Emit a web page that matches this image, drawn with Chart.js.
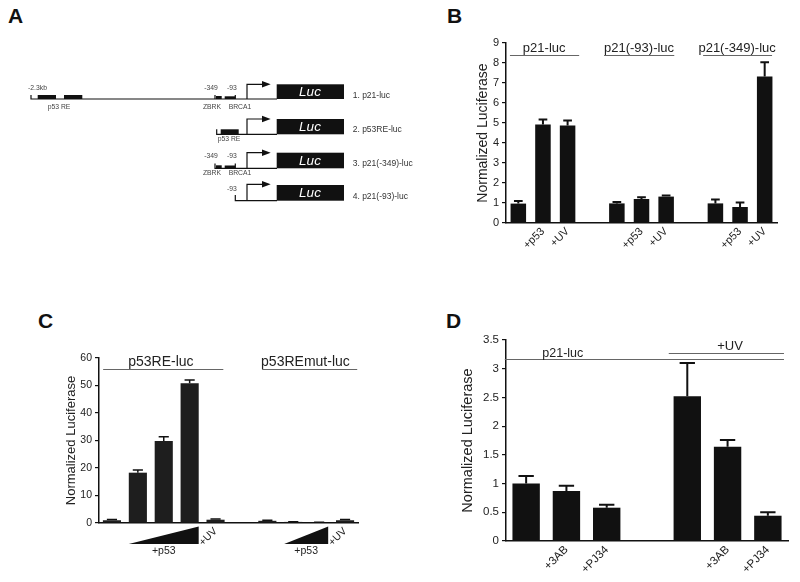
<!DOCTYPE html>
<html>
<head>
<meta charset="utf-8">
<script src="https://cdn.jsdelivr.net/npm/chart.js@4.4.1/dist/chart.umd.min.js"></script>
<style>
  body { margin: 0; background: #fff; }
  #fig { position: relative; width: 800px; height: 582px; overflow: hidden; background: #fff;
         font-family: "Liberation Sans", Arial, sans-serif; }
  .letter { position: absolute; font-weight: bold; font-size: 21px; line-height: 21px; color: #111; }
  canvas { position: absolute; }
  svg { will-change: transform; }
  svg text { font-family: "Liberation Sans", Arial, sans-serif; }
</style>
</head>
<body>
<div id="fig">
  <div class="letter" style="left:8px;top:5px">A</div>
  <div class="letter" style="left:447px;top:5px">B</div>
  <div class="letter" style="left:38px;top:310px">C</div>
  <div class="letter" style="left:446px;top:310px">D</div>

  <svg width="440" height="290" style="position:absolute;left:0;top:0">
    <g stroke="#111" stroke-width="1.2" fill="none">
      <path d="M31,95 V99 H277"/>
      <path d="M215,95 V99 M235.3,95 V99"/>
      <path d="M216.7,129.3 V134.3 H277"/>
      <path d="M215,163.5 V168.3 H277 M235.3,163.5 V168.3"/>
      <path d="M235.3,195 V200.7 H277"/>
      <path d="M247,99 V84.3 H262 M247,134.3 V119 H262 M247,168.3 V152.7 H262 M247,200.7 V184.3 H262"/>
    </g>
    <g fill="#111">
      <rect x="37.7" y="95" width="18.3" height="4"/>
      <rect x="64" y="95" width="18.3" height="4"/>
      <rect x="216" y="96" width="5.7" height="3"/>
      <rect x="224.7" y="96.3" width="10.6" height="2.7"/>
      <rect x="220.7" y="129.3" width="18" height="5"/>
      <rect x="216" y="165.3" width="5.7" height="3"/>
      <rect x="224.7" y="165.5" width="10.6" height="2.8"/>
      <polygon points="262,81 270.7,84.3 262,87.6"/>
      <polygon points="262,115.7 270.7,119 262,122.3"/>
      <polygon points="262,149.4 270.7,152.7 262,156"/>
      <polygon points="262,181 270.7,184.3 262,187.6"/>
      <rect x="276.7" y="84.3" width="67.3" height="14.7"/>
      <rect x="276.7" y="119" width="67.3" height="15.3"/>
      <rect x="276.7" y="152.7" width="67.3" height="15.6"/>
      <rect x="276.7" y="185" width="67.3" height="15.7"/>
    </g>
    <g fill="#fff" font-size="13.5" font-style="italic" text-anchor="middle" dominant-baseline="middle">
      <text x="310" y="92.5">Luc</text>
      <text x="310" y="127.5">Luc</text>
      <text x="310" y="161">Luc</text>
      <text x="310" y="193.5">Luc</text>
    </g>
    <g fill="#444" font-size="6.8" text-anchor="middle" dominant-baseline="middle">
      <text x="37.5" y="88">-2.3kb</text>
      <text x="59" y="107">p53 RE</text>
      <text x="211" y="88">-349</text>
      <text x="232" y="88">-93</text>
      <text x="212" y="107">ZBRK</text>
      <text x="240" y="107">BRCA1</text>
      <text x="229" y="139.5">p53 RE</text>
      <text x="211" y="156">-349</text>
      <text x="232" y="156">-93</text>
      <text x="212" y="173.3">ZBRK</text>
      <text x="240" y="173.3">BRCA1</text>
      <text x="232" y="189">-93</text>
    </g>
    <g fill="#333" font-size="8.5" dominant-baseline="middle">
      <text x="352.7" y="95.5">1. p21-luc</text>
      <text x="352.7" y="130">2. p53RE-luc</text>
      <text x="352.7" y="164">3. p21(-349)-luc</text>
      <text x="352.7" y="196.5">4. p21(-93)-luc</text>
    </g>
  </svg>

  <canvas id="chartB" width="360" height="255" style="left:430px;top:25px"></canvas>
  <canvas id="chartC" width="340" height="230" style="left:30px;top:340px"></canvas>
  <canvas id="chartD" width="365" height="262" style="left:430px;top:320px"></canvas>
</div>

<script>
// Panel B
const bLabels = ['', '+p53', '+UV', '', '', '+p53', '+UV', '', '', '+p53', '+UV'];
const bValues = [0.97, 4.93, 4.88, null, 0.98, 1.20, 1.32, null, 0.98, 0.80, 7.32];
const bErrors = [0.13, 0.24, 0.24, null, 0.07, 0.09, 0.06, null, 0.19, 0.22, 0.72];
const bGroups = ['p21-luc', 'p21(-93)-luc', 'p21(-349)-luc'];

// Panel C
const cLabels = ['', '', '', '', '+UV', '', '', '', '', '+UV'];
const cValues = [1.0, 18.3, 29.8, 50.8, 1.2, null, 0.8, 0.4, 0.2, 1.0];
const cErrors = [0.3, 1.0, 1.6, 1.2, 0.3, null, 0.2, 0.1, 0.1, 0.3];
const cGroups = ['p53RE-luc', 'p53REmut-luc'];
const cWedgeLabel = '+p53';

// Panel D
const dLabels = ['', '+3AB', '+PJ34', '', '', '+3AB', '+PJ34'];
const dValues = [1.00, 0.87, 0.58, null, 2.52, 1.64, 0.44];
const dErrors = [0.13, 0.09, 0.05, null, 0.58, 0.12, 0.06];
const dGroups = ['p21-luc', '+UV'];

const yTitle = 'Normalized Luciferase';
const FONT = '"Liberation Sans", Arial, sans-serif';

function errorBarPlugin(errors, lw) {
  return {
    id: 'errorBars',
    afterDatasetsDraw(chart) {
      const ctx = chart.ctx;
      const y = chart.scales.y;
      const vals = chart.data.datasets[0].data;
      ctx.save();
      ctx.strokeStyle = '#111';
      ctx.lineWidth = lw;
      chart.getDatasetMeta(0).data.forEach((bar, i) => {
        if (vals[i] == null || errors[i] == null) return;
        const top = y.getPixelForValue(vals[i] + errors[i]);
        const half = bar.width * 0.28;
        ctx.beginPath();
        ctx.moveTo(bar.x, bar.y);
        ctx.lineTo(bar.x, top);
        ctx.moveTo(bar.x - half, top);
        ctx.lineTo(bar.x + half, top);
        ctx.stroke();
      });
      ctx.restore();
    }
  };
}

// group lines + labels above the bars, wedges under the axis
function marksPlugin(groups, wedges, wedgeFont) {
  return {
    id: 'groupMarks',
    afterDraw(chart) {
      const {ctx, scales: {x, y}} = chart;
      ctx.save();
      groups.forEach(g => {
        const ly = Math.round(y.getPixelForValue(g.lineAt)) + 0.5;
        ctx.strokeStyle = '#666';
        ctx.lineWidth = 1;
        ctx.beginPath();
        ctx.moveTo(x.getPixelForValue(g.from), ly);
        ctx.lineTo(x.getPixelForValue(g.to), ly);
        ctx.stroke();
        ctx.fillStyle = '#222';
        ctx.font = g.size + 'px ' + FONT;
        ctx.textAlign = 'center';
        ctx.textBaseline = 'middle';
        ctx.fillText(g.text, x.getPixelForValue(g.textAt), y.getPixelForValue(g.textY));
      });
      const base = chart.chartArea.bottom;
      (wedges || []).forEach(w => {
        const x0 = x.getPixelForValue(w.from), x1 = x.getPixelForValue(w.to);
        ctx.fillStyle = '#111';
        ctx.beginPath();
        ctx.moveTo(x0, base + 21);
        ctx.lineTo(x1, base + 21);
        ctx.lineTo(x1, base + 3.5);
        ctx.closePath();
        ctx.fill();
        ctx.fillStyle = '#222';
        ctx.font = wedgeFont + 'px ' + FONT;
        ctx.textAlign = 'center';
        ctx.textBaseline = 'middle';
        ctx.fillText(w.text, (x0 + x1) / 2, base + 28.5);
      });
      ctx.restore();
    }
  };
}

function buildChart(id, c) {
  return new Chart(document.getElementById(id), {
    type: 'bar',
    data: {
      labels: c.labels,
      datasets: [{
        data: c.values,
        backgroundColor: c.color,
        barPercentage: c.barPct,
        categoryPercentage: 1
      }]
    },
    options: {
      responsive: false,
      animation: false,
      devicePixelRatio: 1,
      layout: { padding: c.padding },
      plugins: { legend: { display: false }, tooltip: { enabled: false } },
      scales: {
        x: {
          grid: { display: false, drawTicks: false },
          border: { color: '#111', width: 1.5 },
          ticks: {
            autoSkip: false, minRotation: 45, maxRotation: 45, padding: c.xPad,
            color: '#222', font: { family: FONT, size: c.xFont }
          },
          afterFit: s => { s.height = c.xHeight; }
        },
        y: {
          min: 0, max: c.max,
          grid: { drawOnChartArea: false, tickLength: 4, color: '#111', lineWidth: 1.2 },
          border: { color: '#111', width: 1.5 },
          ticks: {
            stepSize: c.step, padding: 3, color: '#222',
            font: { family: FONT, size: c.yFont },
            callback: v => String(v)
          },
          title: {
            display: true, text: yTitle, color: '#222',
            font: { family: FONT, size: c.titleFont },
            padding: { top: c.titlePad, bottom: 0 }
          },
          afterFit: s => { s.width = c.yWidth; }
        }
      }
    },
    plugins: [errorBarPlugin(c.errors, c.errWidth), marksPlugin(c.groups, c.wedges, c.xFont)]
  });
}

buildChart('chartB', {
  labels: bLabels, values: bValues, errors: bErrors, color: '#111', barPct: 0.63,
  padding: { left: 0, right: 13, top: 18, bottom: 0 }, yWidth: 76, xHeight: 57, xPad: 2,
  max: 9, step: 1, yFont: 11, xFont: 11, titleFont: 14, titlePad: 44.6, errWidth: 2,
  groups: [
    { text: bGroups[0], from: -0.34, to: 2.47, lineAt: 8.38, textAt: 1.05, textY: 8.75, size: 13 },
    { text: bGroups[1], from: 3.48, to: 6.33, lineAt: 8.38, textAt: 4.9, textY: 8.75, size: 13 },
    { text: bGroups[2], from: 7.5, to: 10.3, lineAt: 8.38, textAt: 8.88, textY: 8.75, size: 13 }
  ]
});

buildChart('chartC', {
  labels: cLabels, values: cValues, errors: cErrors, color: '#1e1e1e', barPct: 0.70,
  padding: { left: 0, right: 12, top: 18, bottom: 0 }, yWidth: 69, xHeight: 47, xPad: 2,
  max: 60, step: 10, yFont: 10.5, xFont: 10.5, titleFont: 13, titlePad: 33.2, errWidth: 1.5,
  groups: [
    { text: cGroups[0], from: -0.34, to: 4.3, lineAt: 56.1, textAt: 1.89, textY: 58.6, size: 14 },
    { text: cGroups[1], from: 5.8, to: 9.47, lineAt: 56.1, textAt: 7.47, textY: 58.6, size: 14 }
  ],
  wedges: [
    { text: cWedgeLabel, from: 0.65, to: 3.35 },
    { text: cWedgeLabel, from: 6.65, to: 8.35 }
  ]
});

buildChart('chartD', {
  labels: dLabels, values: dValues, errors: dErrors, color: '#111', barPct: 0.68,
  padding: { left: 0, right: 7, top: 20, bottom: 0 }, yWidth: 76, xHeight: 41, xPad: 2,
  max: 3.5, step: 0.5, yFont: 11.5, xFont: 11.5, titleFont: 14.5, titlePad: 29.3, errWidth: 2,
  groups: [
    { text: dGroups[0], from: -0.53, to: 6.4, lineAt: 3.17, textAt: 0.91, textY: 3.27, size: 12.5 },
    { text: dGroups[1], from: 3.54, to: 6.4, lineAt: 3.27, textAt: 5.06, textY: 3.38, size: 13 }
  ]
});
</script>
</body>
</html>
